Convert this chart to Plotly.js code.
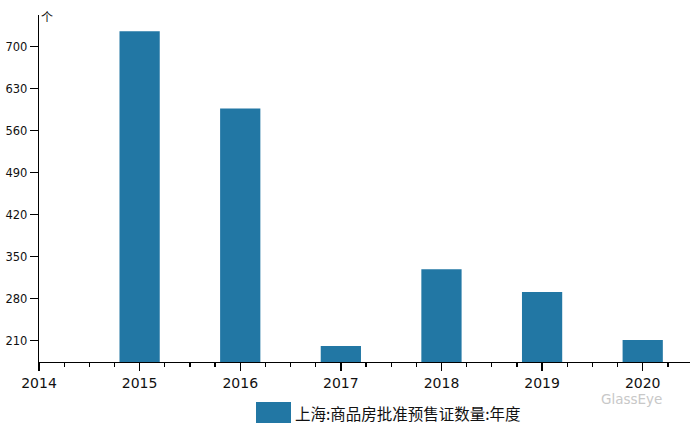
<!DOCTYPE html>
<html><head><meta charset="utf-8">
<script src="https://cdn.plot.ly/plotly-3.0.1.min.js"></script>
<style>html,body{margin:0;padding:0;background:#fff}#chart{width:690px;height:428px}</style>
</head><body><div id="chart"></div>
<script>
const years = [2015, 2016, 2017, 2018, 2019, 2020];
const counts = [726, 597, 201, 329, 291, 211];
const seriesName = '上海:商品房批准预售证数量:年度';
const yTicks = [210, 280, 350, 420, 490, 560, 630, 700];
const xTicks = [2014, 2015, 2016, 2017, 2018, 2019, 2020];
const unitLabel = '个';
const barColor = '#2277a4';

const trace = {
  type: 'bar', x: years, y: counts, name: seriesName,
  width: 0.4, marker: {color: barColor}, showlegend: false, hoverinfo: 'x+y'
};
const layout = {
  width: 690, height: 428,
  margin: {l: 39, r: 0, t: 15, b: 66},
  paper_bgcolor: '#fff', plot_bgcolor: '#fff',
  font: {family: 'DejaVu Sans, sans-serif', color: '#111'},
  xaxis: {
    range: [2014, 2020.47], tickvals: xTicks, ticktext: xTicks.map(String),
    showgrid: false, zeroline: false, showline: true, linecolor: '#000', linewidth: 1.3,
    ticks: 'outside', ticklen: 8, tickcolor: '#000', tickwidth: 1.3,
    tickfont: {size: 14, color: '#111'},
    minor: {dtick: 0.25, tick0: 2014, ticks: 'outside', ticklen: 4, tickcolor: '#000', tickwidth: 1.3, showgrid: false}
  },
  yaxis: {
    range: [174.5, 753], tickvals: yTicks, ticktext: yTicks.map(String),
    showgrid: false, zeroline: false, showline: true, linecolor: '#000', linewidth: 1.3,
    ticks: 'outside', ticklen: 8, tickcolor: '#000', tickwidth: 1.3,
    tickfont: {size: 11.5, color: '#111'}
  },
  shapes: [{
    type: 'rect', xref: 'paper', yref: 'paper',
    x0: (256 - 39) / 651, x1: (291 - 39) / 651,
    y0: -(402 - 362) / 347, y1: -(423 - 362) / 347,
    fillcolor: barColor, line: {width: 0}
  }],
  annotations: [
    {text: seriesName, xref: 'paper', yref: 'paper', x: (293 - 39) / 651, y: -(412.5 - 362) / 347,
     xanchor: 'left', yanchor: 'middle', showarrow: false,
     font: {family: 'Noto Sans CJK SC, sans-serif', size: 15.5, color: '#111'}},
    {text: unitLabel, xref: 'paper', yref: 'paper', x: 0.0, y: 0.997,
     xanchor: 'left', yanchor: 'middle', showarrow: false,
     font: {family: 'Noto Sans CJK SC, sans-serif', size: 12, color: '#111'}},
    {text: 'GlassEye', xref: 'paper', yref: 'paper', x: (599 - 39) / 651, y: -(399 - 362) / 347,
     xanchor: 'left', yanchor: 'middle', showarrow: false,
     font: {family: 'DejaVu Sans, sans-serif', size: 13.5, color: '#c8c8c8'}}
  ]
};
Plotly.newPlot('chart', [trace], layout, {displayModeBar: false, staticPlot: true});
</script></body></html>
